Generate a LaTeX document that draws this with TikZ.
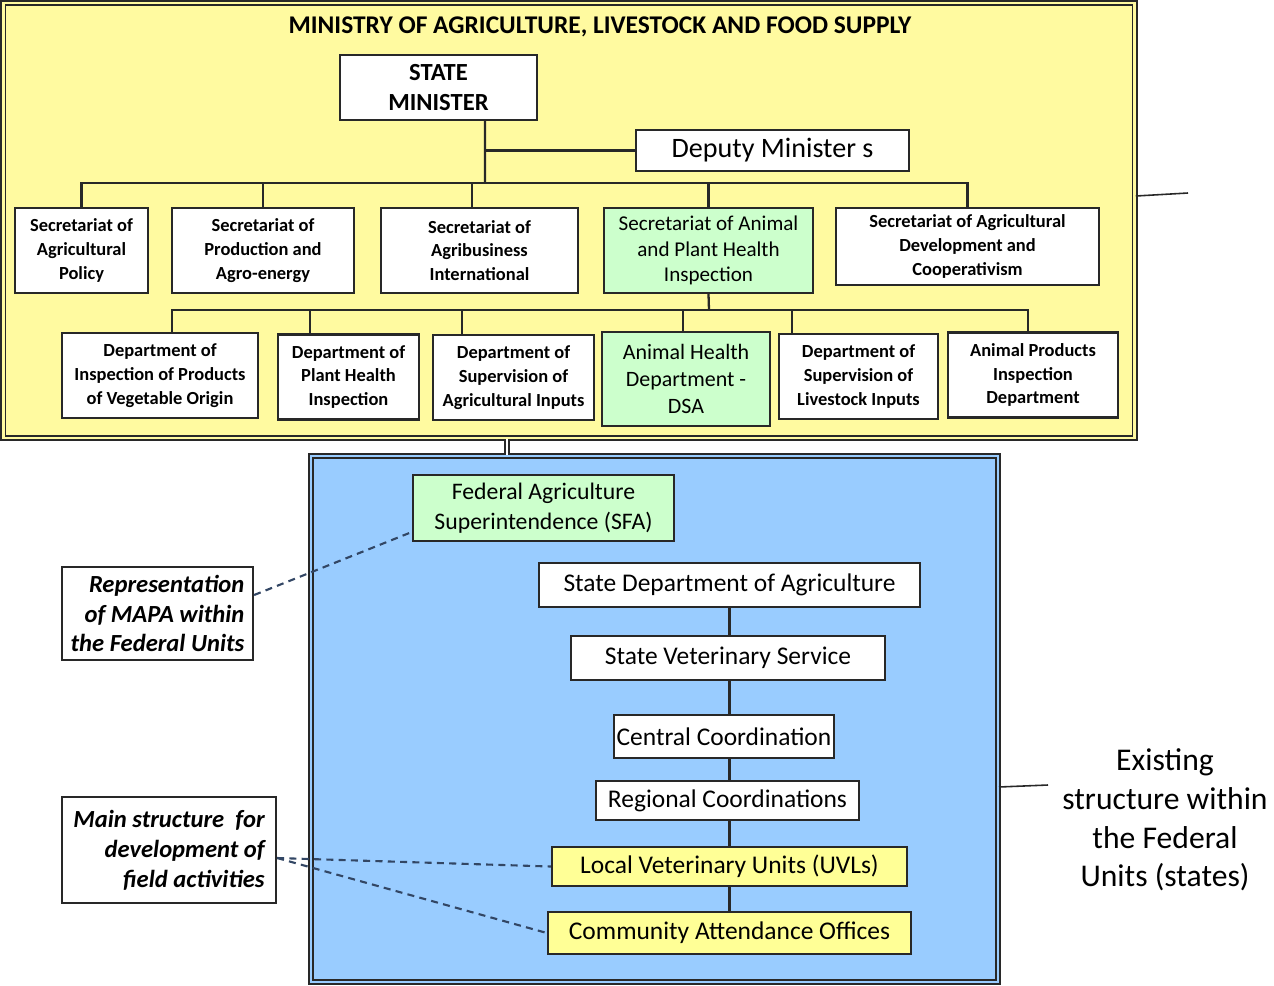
\documentclass[tikz,border=0pt]{standalone}
\usepackage{fontspec}
\setmainfont{Carlito}

\definecolor{jaune}{RGB}{255,250,160}
\definecolor{jaunevif}{RGB}{255,255,150}
\definecolor{vertclair}{RGB}{204,255,204}
\definecolor{bleuclair}{RGB}{153,204,255}
\definecolor{trait}{RGB}{40,40,40}
\definecolor{tirets}{RGB}{50,70,100}

\begin{document}
\begin{tikzpicture}[x=0.02cm,y=-0.02cm,
	boite/.style={draw=trait,line width=1.3pt,fill=white,align=center,inner sep=1pt},
	secr/.style={boite,font=\fontsize{10.5}{13.6}\selectfont\bfseries,minimum height=1.70cm},
	bas/.style={boite,font=\fontsize{14.5}{17}\selectfont},
	note/.style={boite,align=right,font=\fontsize{14}{17}\selectfont\bfseries\itshape},
	bus/.style={to path={|- (\tikztotarget)}},
	lien/.style={draw=trait,line width=1.3pt},
	pointille/.style={draw=tirets,line width=1.2pt,dash pattern=on 4pt off 3pt},
]
	\useasboundingbox (0,0) rectangle (1274,985);

	%cadres de fond : ministere (jaune) et unites federales (bleu)
	\node (ministere) at(569,220.5) [draw=trait,line width=1pt,double=jaune,double distance=1.6pt,fill=jaune,minimum width=22.64cm,minimum height=8.70cm] {} ;
	\node (bleu) at(654.5,719) [draw=trait,line width=1.2pt,double=bleuclair,double distance=1.4pt,fill=bleuclair,minimum width=13.74cm,minimum height=10.52cm] {} ;

	\node (titre) at(600,27) [font=\fontsize{14.5}{17}\selectfont\bfseries] {MINISTRY OF AGRICULTURE, LIVESTOCK AND FOOD SUPPLY} ;

	%niveau 1
	\node (ministre) at(438.5,87.5) [boite,font=\fontsize{14}{17}\selectfont\bfseries,minimum width=3.94cm,minimum height=1.30cm] {STATE\\MINISTER} ;
	\node (adjoint) at(772.5,150.5) [boite,font=\fontsize{16}{19}\selectfont,minimum width=5.46cm,minimum height=0.82cm] {Deputy Minister s} ;

	%secretariats
	\node (sec 1) at(81.5,250.5) [secr,minimum width=2.66cm] {Secretariat of\\Agricultural\\Policy} ;
	\node (sec 2) at(263,250.5) [secr,minimum width=3.64cm] {Secretariat of\\Production and\\Agro-energy} ;
	\node (sec 3) at(479.5,250.5) [secr,minimum width=3.94cm] {Secretariat of\\Agribusiness\\International} ;
	\node (sec 4) at(708.5,250.5) [boite,fill=vertclair,font=\fontsize{12}{14.7}\selectfont,minimum width=4.18cm,minimum height=1.70cm] {Secretariat of Animal\\and Plant Health\\Inspection} ;
	\node (sec 5) at(967.5,246.5) [secr,minimum width=5.26cm,minimum height=1.54cm] {Secretariat of Agricultural\\Development and\\Cooperativism} ;

	%departements
	\node (dep 1) at(160,375.5) [secr,minimum width=3.92cm] {Department of\\Inspection of Products\\of Vegetable Origin} ;
	\node (dep 2) at(348.5,377) [secr,minimum width=2.82cm] {Department of\\Plant Health\\Inspection} ;
	\node (dep 3) at(513.5,377.5) [secr,minimum width=3.22cm] {Department of\\Supervision of\\Agricultural Inputs} ;
	\node (dep 4) at(686,379) [boite,fill=vertclair,font=\fontsize{12.5}{15.3}\selectfont,minimum width=3.36cm,minimum height=1.88cm] {Animal Health\\Department -\\DSA} ;
	\node (dep 5) at(858.5,376.5) [secr,minimum width=3.18cm] {Department of\\Supervision of\\Livestock Inputs} ;
	\node (dep 6) at(1033,375) [secr,minimum width=3.40cm] {Animal Products\\Inspection\\Department} ;

	\coordinate (bus1) at(485,183) ;
	\coordinate (bus2) at(709,310) ;

	\path[lien]
	([xshift=0.93cm]ministre.south) edge (bus1)
	([xshift=0.93cm]ministre.south) edge[bus] (adjoint.west)
	(sec 1.north) edge[bus] (bus1)
	(sec 2.north) edge[bus] (bus1)
	([xshift=-0.15cm]sec 3.north) edge[bus] (bus1)
	(sec 4.north) edge[bus] (bus1)
	(sec 5.north) edge[bus] (bus1)
	(sec 4.south) edge (bus2)
	([xshift=0.24cm]dep 1.north) edge[bus] (bus2)
	([xshift=-0.77cm]dep 2.north) edge[bus] (bus2)
	([xshift=-1.03cm]dep 3.north) edge[bus] (bus2)
	([xshift=-0.06cm]dep 4.north) edge[bus] (bus2)
	([xshift=-1.33cm]dep 5.north) edge[bus] (bus2)
	([xshift=-0.10cm]dep 6.north) edge[bus] (bus2)
	;

	%unites federales
	\node (sfa) at(543.5,508) [bas,fill=vertclair,font=\fontsize{13.5}{17}\selectfont,minimum width=5.22cm,minimum height=1.32cm] {Federal Agriculture\\Superintendence (SFA)} ;
	\node (sda) at(729.5,585) [bas,minimum width=7.62cm,minimum height=0.88cm] {State Department of Agriculture} ;
	\node (svs) at(728,658) [bas,minimum width=6.28cm,minimum height=0.88cm] {State Veterinary Service} ;
	\node (cc) at(724,736.5) [bas,minimum width=4.40cm,minimum height=0.86cm] {Central Coordination} ;
	\node (rc) at(727.5,800.5) [bas,minimum width=5.26cm,minimum height=0.78cm] {Regional Coordinations} ;
	\node (uvl) at(729.5,866.5) [bas,fill=jaunevif,minimum width=7.10cm,minimum height=0.78cm] {Local Veterinary Units (UVLs)} ;
	\node (cao) at(729.5,933) [bas,fill=jaunevif,minimum width=7.26cm,minimum height=0.84cm] {Community Attendance Offices} ;

	\path[lien]
	(sda.south) edge (sda.south |- svs.north)
	(svs.south -| sda.south) edge (cc.north -| sda.south)
	(cc.south -| sda.south) edge (rc.north -| sda.south)
	(rc.south -| sda.south) edge (uvl.north -| sda.south)
	(uvl.south -| sda.south) edge (cao.north -| sda.south)
	;

	%liaison entre les deux cadres
	\draw[trait,line width=0.9pt,double=white,double distance=1.6pt] ([xshift=-1.24cm]ministere.south) -- ([xshift=-1.24cm]ministere.south |- bleu.north) ;

	%notes a gauche
	\node (rep) at(157.5,613.5) [note,minimum width=3.82cm,minimum height=1.86cm] {Representation\\of MAPA within\\the Federal Units} ;
	\node (princ) at(169,850) [note,minimum width=4.28cm,minimum height=2.12cm] {Main structure\ \ for\\development of\\field activities} ;

	\path[pointille]
	([yshift=0.37cm]rep.east) edge ([yshift=-0.48cm]sfa.west)
	([yshift=-0.16cm]princ.east) edge (uvl.west)
	([yshift=-0.16cm]princ.east) edge (cao.west)
	;

	%traits a droite
	\coordinate (fin1) at(1188,193) ;
	\coordinate (fin2) at(1048,785) ;
	\draw[trait,line width=0.9pt] ([yshift=0.49cm]ministere.east) -- (fin1) ;
	\draw[trait,line width=0.9pt] ([yshift=-1.36cm]bleu.east) -- (fin2) ;

	\node (existant) at(1165,820) [align=center,font=\fontsize{18}{22}\selectfont] {Existing\\structure within\\the Federal\\Units (states)} ;
\end{tikzpicture}
\end{document}
